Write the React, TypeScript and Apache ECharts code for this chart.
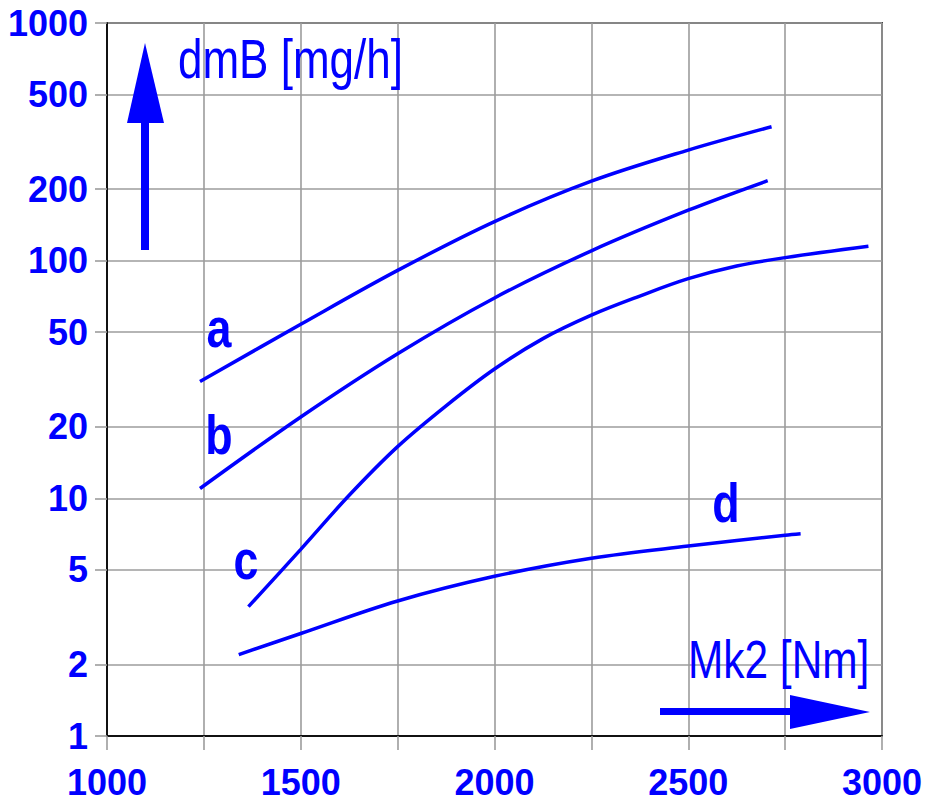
import React, { useEffect, useRef } from "react";
import * as echarts from "echarts";

// ---- data ----
const xTickLabels = [1000, 1500, 2000, 2500, 3000];
const yTickValues = [1, 2, 5, 10, 20, 50, 100, 200, 500, 1000];

const curveAX = [1240, 1500, 1750, 2000, 2250, 2500, 2715];
const curveAY = [31, 54, 91, 146, 216, 292, 366];

const curveBX = [1240, 1500, 1750, 2000, 2250, 2500, 2705];
const curveBY = [11, 22, 40.6, 69.7, 110, 163, 217];

const curveCX = [1365, 1500, 1625, 1750, 1875, 2000, 2125, 2250, 2375, 2500, 2625, 2750, 2965];
const curveCY = [3.5, 6.1, 10.3, 16.5, 24.5, 35, 47, 59, 71, 84, 95, 103, 115];

const curveDX = [1340, 1500, 1750, 2000, 2250, 2500, 2750, 2790];
const curveDY = [2.2, 2.7, 3.7, 4.7, 5.6, 6.3, 7.0, 7.1];

const curveNames = ["a", "b", "c", "d"];
const yTitle = "dmB [mg/h]";
const xTitle = "Mk2 [Nm]";

const BLUE = "#0000ff";
const GRIDC = "#9c9c9c";
const FONT = "'Liberation Sans', Arial, sans-serif";
const NARROW = 0.8;

export default function App() {
  const ref = useRef<HTMLDivElement>(null);

  useEffect(() => {
    const chart = echarts.init(ref.current!, null, { renderer: "svg" });
    const pairs = (xs: number[], ys: number[]) => xs.map((x, i) => [x, ys[i]]);
    const curves = [
      pairs(curveAX, curveAY),
      pairs(curveBX, curveBY),
      pairs(curveCX, curveCY),
      pairs(curveDX, curveDY),
    ];

    const labelText = (text: string, x: number, y: number) => ({
      type: "text",
      x,
      y,
      scaleX: NARROW,
      style: {
        text,
        fill: BLUE,
        font: `bold 56px ${FONT}`,
        textAlign: "center",
        textVerticalAlign: "middle",
      },
      z: 10,
    });

    chart.setOption({
      animation: false,
      backgroundColor: "#ffffff",
      textStyle: { fontFamily: FONT },
      grid: {
        left: 107,
        right: 48,
        top: 23,
        bottom: 69,
        show: true,
        borderColor: "#444",
        borderWidth: 2,
        outerBoundsMode: "none",
      },
      xAxis: {
        type: "value",
        min: 1000,
        max: 3000,
        interval: 250,
        axisLine: { show: true, lineStyle: { color: "#111", width: 2 } },
        axisTick: { show: true, length: 14, lineStyle: { color: GRIDC, width: 1.6 } },
        splitLine: { show: true, lineStyle: { color: GRIDC, width: 1.6 } },
        axisLabel: {
          formatter: (v: number) => (xTickLabels.includes(v) ? String(v) : ""),
          color: BLUE,
          fontSize: 36,
          fontWeight: "bold",
          fontFamily: FONT,
          margin: 28,
        },
      },
      yAxis: {
        type: "log",
        logBase: 10,
        min: 1,
        max: 1000,
        axisLine: { show: true, lineStyle: { color: "#111", width: 2 } },
        axisTick: {
          show: true,
          length: 12,
          customValues: yTickValues,
          lineStyle: { color: GRIDC, width: 1.6 },
        },
        splitLine: { show: true, lineStyle: { color: GRIDC, width: 1.6 } },
        axisLabel: {
          customValues: yTickValues,
          formatter: (v: number) => String(Math.round(v)),
          color: BLUE,
          fontSize: 36,
          fontWeight: "bold",
          fontFamily: FONT,
          margin: 19,
        },
      },
      series: curves.map((data, i) => ({
        name: curveNames[i],
        type: "line",
        data,
        smooth: 0.35,
        showSymbol: false,
        symbol: "none",
        lineStyle: { color: BLUE, width: 3.5 },
        z: 5,
      })),
      graphic: [
        // y-axis title and arrow
        { type: "rect", shape: { x: 141, y: 120, width: 8, height: 130 }, style: { fill: BLUE }, z: 10 },
        { type: "polygon", shape: { points: [[145, 43], [127, 123], [164, 123]] }, style: { fill: BLUE }, z: 10 },
        {
          type: "text",
          x: 178,
          y: 59,
          scaleX: NARROW,
          style: { text: yTitle, fill: BLUE, font: `55px ${FONT}`, textAlign: "left", textVerticalAlign: "middle" },
          z: 10,
        },
        // x-axis title and arrow
        { type: "rect", shape: { x: 660, y: 708, width: 134, height: 7 }, style: { fill: BLUE }, z: 10 },
        { type: "polygon", shape: { points: [[790, 695], [790, 729], [870, 712]] }, style: { fill: BLUE }, z: 10 },
        {
          type: "text",
          x: 688,
          y: 660,
          scaleX: NARROW,
          style: { text: xTitle, fill: BLUE, font: `53px ${FONT}`, textAlign: "left", textVerticalAlign: "middle" },
          z: 10,
        },
        // curve labels
        labelText(curveNames[0], 219, 328),
        labelText(curveNames[1], 219, 435),
        labelText(curveNames[2], 246, 560),
        labelText(curveNames[3], 726, 503),
      ],
    });
    return () => chart.dispose();
  }, []);

  return (
    <div
      ref={ref}
      style={{ position: "fixed", left: 0, top: 0, width: 930, height: 805, background: "#fff" }}
    />
  );
}
